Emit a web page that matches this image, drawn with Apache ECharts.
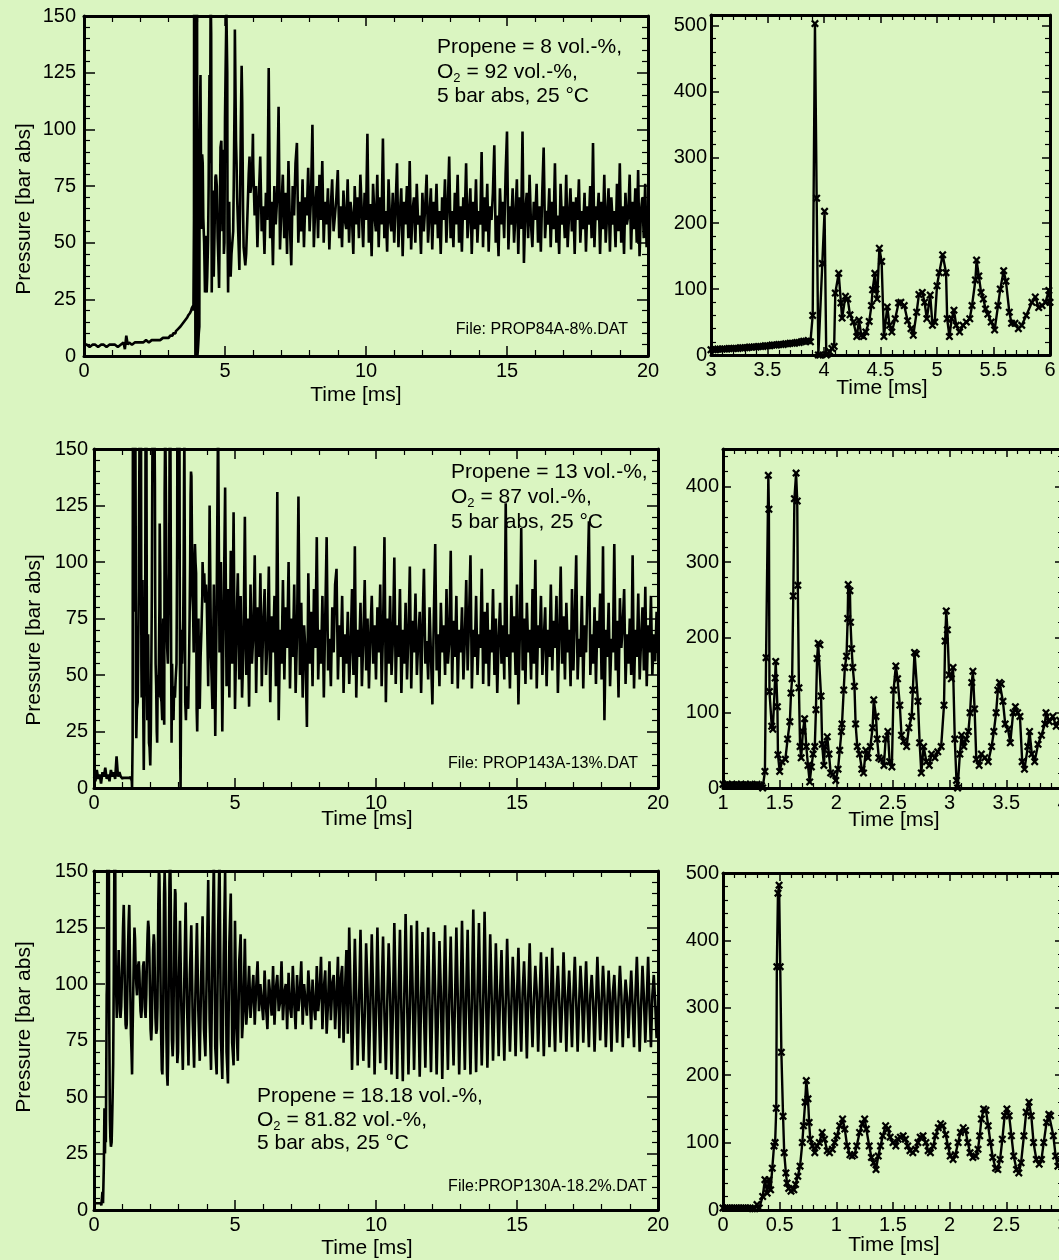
<!DOCTYPE html>
<html><head><meta charset="utf-8">
<script src="https://cdn.jsdelivr.net/npm/echarts@6/dist/echarts.min.js"></script>
<style>html,body{margin:0;padding:0;background:#daf5c1;overflow:hidden;}#c{width:1059px;height:1260px;}</style>
</head><body><div id="c"></div>
<script>
// ---------------- DATA ----------------
// Panel 1 (Propene 8 %), full record 0-20 ms: early baseline, then shared detail (panel 2), then tail
const p1Pre = [[0,5],[0.1,5],[0.2,4],[0.3,5],[0.4,5],[0.5,4],[0.6,5],[0.7,5],[0.8,4],[0.9,5],[1.0,5],[1.1,5],[1.2,4],[1.3,5],[1.4,6],[1.45,3],[1.5,9],[1.55,5],[1.6,6],[1.7,5],[1.8,6],[1.9,6],[2.0,6],[2.1,6],[2.2,7],[2.3,6],[2.4,7],[2.5,7],[2.6,7],[2.7,7],[2.8,8],[2.9,8]];
// Panel 2 detail 3-6 ms (time ms, pressure bar)
const p2Detail = [[3.00,8],[3.02,8],[3.04,8],[3.06,9],[3.08,9],[3.10,9],[3.12,9],[3.14,9],[3.16,10],[3.18,10],[3.20,10],[3.22,10],[3.24,10],[3.26,11],[3.28,11],[3.30,11],[3.32,11],[3.34,12],[3.36,12],[3.38,12],[3.40,12],[3.42,13],[3.44,13],[3.46,13],[3.48,14],[3.50,14],[3.52,14],[3.54,15],[3.56,15],[3.58,15],[3.60,16],[3.62,16],[3.64,16],[3.66,17],[3.68,17],[3.70,18],[3.72,18],[3.74,18],[3.76,19],[3.78,19],[3.80,20],[3.82,21],[3.84,21],[3.86,22],[3.88,20],[3.90,60],[3.92,503],[3.935,238],[3.95,0],[3.965,0],[3.985,139],[4.005,218],[4.02,0],[4.035,2],[4.05,5],[4.07,10],[4.09,13],[4.10,94],[4.13,124],[4.15,79],[4.16,56],[4.19,89],[4.21,85],[4.23,61],[4.26,50],[4.29,28],[4.31,53],[4.33,30],[4.35,28],[4.37,35],[4.40,51],[4.42,75],[4.43,99],[4.45,124],[4.46,100],[4.47,85],[4.49,162],[4.51,142],[4.53,28],[4.56,73],[4.58,45],[4.60,35],[4.63,55],[4.66,79],[4.68,80],[4.71,75],[4.74,52],[4.77,40],[4.79,30],[4.82,65],[4.84,92],[4.87,95],[4.89,80],[4.91,55],[4.94,91],[4.96,45],[4.98,50],[5.00,105],[5.02,125],[5.05,152],[5.08,125],[5.09,55],[5.11,28],[5.13,55],[5.15,68],[5.17,45],[5.20,35],[5.23,45],[5.26,50],[5.29,55],[5.31,75],[5.34,114],[5.35,144],[5.37,120],[5.39,95],[5.41,85],[5.43,70],[5.45,62],[5.48,50],[5.51,38],[5.54,75],[5.56,100],[5.59,128],[5.61,112],[5.64,65],[5.66,48],[5.69,48],[5.72,40],[5.75,45],[5.79,60],[5.84,80],[5.87,88],[5.90,72],[5.93,75],[5.96,80],[5.99,98],[6.00,80]];
// Panel 1 tail: samples every 0.05 ms starting at 6.00 ms
const p1TailStart = 6.0, p1TailStep = 0.05;
const p1Tail = [
85,62,75,48,70,88,55,66,45,72,60,127,52,68,40,75,58,70,110,47,
65,80,52,72,45,86,58,40,75,62,85,94,50,68,55,78,48,70,62,83,
55,70,102,48,66,75,52,80,60,86,50,68,58,74,47,65,78,55,62,70,
82,52,66,48,73,60,56,78,50,68,62,45,75,58,70,52,80,64,48,72,
60,98,50,67,44,76,62,55,80,48,70,58,96,52,64,46,78,60,55,72,
50,66,85,48,62,74,44,68,58,75,52,86,47,64,70,50,76,58,62,45,
72,55,66,80,50,62,74,47,68,58,76,52,64,45,70,60,78,50,66,88,
52,64,48,72,58,80,50,66,46,70,60,85,52,62,74,45,68,56,78,50,
64,58,90,48,70,55,76,46,66,60,72,93,50,62,44,74,58,68,52,80,
99,47,66,58,74,50,62,78,45,70,56,99,41,64,72,52,80,58,48,68,
60,76,50,66,46,72,92,52,64,58,74,48,68,56,85,50,62,45,76,58,
66,52,80,48,62,74,55,68,45,70,60,78,50,64,56,72,46,66,58,75,
52,94,48,66,60,72,45,68,56,80,50,62,74,46,70,58,64,48,76,55,
85,50,66,45,72,58,62,80,47,68,56,74,50,82,44,64,70,52,76,48,
60];

// Panel 3 (Propene 13 %)
const p3Pre = [[0,5],[0.05,3],[0.1,8],[0.15,4],[0.2,6],[0.25,2],[0.3,7],[0.35,5],[0.4,9],[0.45,4],[0.5,6],[0.55,3],[0.6,8],[0.65,5],[0.7,7],[0.75,4],[0.8,14],[0.85,5],[0.9,7],[0.95,5]];
// Panel 4 detail 1-4 ms
const p4Detail = [[1.00,5],[1.02,4],[1.04,5],[1.06,4],[1.08,5],[1.10,4],[1.12,5],[1.14,4],[1.16,5],[1.18,4],[1.20,5],[1.22,4],[1.24,5],[1.26,4],[1.28,4],[1.30,5],[1.32,4],[1.34,3],[1.35,0],[1.37,22],[1.38,173],[1.40,415],[1.405,370],[1.41,128],[1.43,82],[1.44,78],[1.46,146],[1.465,168],[1.48,108],[1.485,44],[1.50,22],[1.52,35],[1.55,38],[1.57,65],[1.59,88],[1.60,126],[1.61,145],[1.62,255],[1.63,384],[1.645,418],[1.655,381],[1.66,269],[1.67,133],[1.68,55],[1.69,40],[1.705,75],[1.72,92],[1.735,55],[1.75,30],[1.765,8],[1.78,28],[1.795,45],[1.81,55],[1.82,104],[1.83,172],[1.84,192],[1.855,190],[1.865,122],[1.875,58],[1.89,30],[1.90,55],[1.92,68],[1.935,45],[1.95,20],[1.97,18],[1.995,10],[2.015,25],[2.03,50],[2.045,75],[2.05,85],[2.065,130],[2.075,160],[2.09,175],[2.10,225],[2.105,270],[2.12,262],[2.125,220],[2.135,185],[2.145,160],[2.16,135],[2.17,85],[2.185,55],[2.205,45],[2.225,25],[2.24,20],[2.26,50],[2.28,40],[2.30,55],[2.32,80],[2.33,117],[2.35,95],[2.36,65],[2.375,40],[2.395,38],[2.42,30],[2.435,65],[2.455,75],[2.47,35],[2.49,28],[2.505,130],[2.525,162],[2.54,145],[2.56,110],[2.575,70],[2.595,62],[2.62,55],[2.64,80],[2.665,95],[2.675,130],[2.69,180],[2.705,178],[2.72,115],[2.735,60],[2.75,20],[2.77,55],[2.795,35],[2.82,30],[2.84,45],[2.87,40],[2.895,48],[2.925,55],[2.95,110],[2.96,195],[2.97,235],[2.98,210],[2.995,150],[3.015,145],[3.03,160],[3.045,65],[3.06,10],[3.07,0],[3.09,45],[3.105,70],[3.125,55],[3.145,65],[3.165,75],[3.18,100],[3.195,140],[3.205,155],[3.22,105],[3.235,38],[3.26,30],[3.28,45],[3.31,40],[3.34,35],[3.37,55],[3.39,75],[3.41,100],[3.425,130],[3.44,140],[3.455,138],[3.47,115],[3.49,85],[3.515,78],[3.535,60],[3.56,100],[3.58,108],[3.60,100],[3.62,95],[3.64,35],[3.66,25],[3.69,55],[3.705,75],[3.725,45],[3.75,35],[3.78,58],[3.81,70],[3.84,85],[3.85,100],[3.88,88],[3.91,95],[3.94,82],[3.97,90],[4.00,85]];
const p3TailStart = 4.0, p3TailStep = 0.05;
const p3Tail = [
82,45,125,58,35,90,23,80,165,60,100,25,78,133,45,88,40,105,55,122,
35,70,95,48,85,40,62,120,50,75,36,90,55,68,103,42,80,58,95,45,
72,88,50,65,98,38,76,60,85,45,131,30,70,55,92,48,80,62,100,44,
75,58,90,42,68,129,50,82,40,72,60,27,95,55,78,45,88,62,111,48,
70,55,85,40,75,111,52,66,45,80,60,90,97,48,72,58,85,42,68,55,
78,46,62,88,50,107,40,70,58,82,45,66,92,52,75,44,68,85,55,72,
48,80,60,90,45,70,111,38,75,55,85,50,66,102,46,72,58,88,42,70,
55,82,48,68,98,44,74,60,86,50,66,78,42,72,97,55,65,48,80,58,
37,75,108,52,68,45,82,60,72,50,88,55,65,105,46,74,58,85,44,70,
60,80,48,66,92,52,75,103,44,70,58,85,50,68,62,97,46,78,55,82,
45,70,60,88,50,75,42,66,82,55,72,48,126,58,68,44,85,60,76,50,
90,37,68,115,52,75,46,82,60,70,48,88,55,101,44,72,62,85,50,66,
80,45,70,58,90,52,74,62,85,42,68,98,55,76,48,82,60,70,45,88,
52,75,103,48,66,58,85,44,72,60,90,118,50,68,55,80,46,74,62,86,
48,107,30,70,58,82,45,66,60,108,52,74,40,84,62,72,88,46,68,55,
75,50,103,44,70,58,86,48,66,80,52,89,45,72,60,85,50,68,56,78,
60];

// Panel 6 detail 0-3 ms (Propene 18.18 %)
const p6Detail = [[0.00,3],[0.02,3],[0.04,3],[0.06,3],[0.08,3],[0.10,3],[0.12,3],[0.14,3],[0.16,3],[0.18,3],[0.20,3],[0.22,3],[0.24,3],[0.26,2],[0.28,2],[0.30,8],[0.32,3],[0.35,20],[0.37,45],[0.39,25],[0.405,45],[0.42,30],[0.435,62],[0.45,95],[0.46,100],[0.47,151],[0.475,361],[0.485,470],[0.495,482],[0.505,361],[0.515,234],[0.53,139],[0.54,85],[0.555,55],[0.565,40],[0.58,32],[0.60,28],[0.625,30],[0.64,38],[0.66,50],[0.68,65],[0.70,100],[0.71,125],[0.725,160],[0.735,192],[0.75,165],[0.76,130],[0.77,105],[0.79,95],[0.81,85],[0.83,95],[0.85,100],[0.875,115],[0.895,105],[0.92,88],[0.94,85],[0.965,90],[0.985,100],[1.005,110],[1.03,125],[1.055,135],[1.075,120],[1.095,95],[1.12,82],[1.14,80],[1.16,82],[1.18,95],[1.205,115],[1.23,128],[1.25,135],[1.265,120],[1.29,95],[1.31,78],[1.33,70],[1.35,60],[1.37,80],[1.39,95],[1.41,110],[1.435,125],[1.455,120],[1.475,108],[1.50,100],[1.525,95],[1.545,105],[1.565,108],[1.59,110],[1.61,105],[1.63,95],[1.65,88],[1.675,85],[1.70,90],[1.72,100],[1.74,108],[1.765,110],[1.79,100],[1.81,88],[1.83,85],[1.855,95],[1.875,110],[1.90,122],[1.92,128],[1.94,125],[1.965,112],[1.985,95],[2.005,80],[2.03,75],[2.05,82],[2.075,100],[2.095,115],[2.12,122],[2.14,118],[2.16,100],[2.18,85],[2.205,78],[2.23,80],[2.25,90],[2.265,110],[2.28,135],[2.30,150],[2.32,148],[2.34,125],[2.36,100],[2.38,78],[2.405,62],[2.425,60],[2.445,75],[2.465,105],[2.485,140],[2.505,150],[2.525,140],[2.545,110],[2.565,80],[2.59,60],[2.61,55],[2.63,70],[2.655,110],[2.675,145],[2.70,160],[2.72,140],[2.74,100],[2.765,75],[2.79,68],[2.81,75],[2.83,100],[2.855,130],[2.875,142],[2.89,140],[2.915,110],[2.935,80],[2.955,65],[2.98,70],[3.00,95]];
const p5TailStart = 3.0, p5TailStep = 0.05;
const p5Tail = [
95,128,88,62,100,136,90,64,104,126,84,63,98,127,88,66,102,130,80,68,
108,146,84,62,116,155,72,60,122,158,76,58,112,150,70,56,118,140,74,64,
128,82,66,110,122,76,88,120,82,92,108,85,95,104,82,98,110,88,100,92,
84,106,90,80,102,95,86,108,82,98,104,88,92,110,84,96,100,80,105,90,
85,108,92,80,104,88,96,110,82,100,92,86,106,95,80,102,90,84,108,88,
96,112,80,98,106,78,92,110,84,100,104,80,94,112,76,102,108,74,96,115,
78,125,96,62,88,120,94,64,92,124,90,66,86,118,98,63,90,122,95,60,
88,125,92,65,95,121,86,62,92,118,96,60,89,127,93,58,94,124,88,57,
92,131,95,60,88,126,97,62,90,128,92,59,94,123,88,63,96,125,90,61,
92,123,95,60,88,119,96,58,93,126,90,62,95,121,88,64,91,125,94,60,
90,128,92,62,96,124,88,60,94,133,90,61,95,127,92,64,90,132,96,63,
92,122,95,66,90,118,93,68,96,115,90,66,92,120,94,70,90,112,96,68,
94,116,90,70,96,110,92,67,95,118,90,72,93,108,96,70,92,114,94,68,
90,112,95,72,92,116,90,70,96,108,92,74,90,114,95,70,93,106,90,72,
95,112,92,70,90,108,96,74,92,110,90,72,95,104,92,70,90,112,94,75,
92,108,95,72,90,106,92,70,96,104,90,74,93,108,95,72,90,102,94,76,
92,106,90,72,95,112,92,70,90,108,94,74,92,112,90,72,95,104,92,76,
90];

// Texts
const annot1 = ['Propene = 8 vol.-%,', ' = 92 vol.-%,', '5 bar abs, 25 °C'];
const annot3 = ['Propene = 13 vol.-%,', ' = 87 vol.-%,', '5 bar abs, 25 °C'];
const annot5 = ['Propene = 18.18 vol.-%,', ' = 81.82 vol.-%,', '5 bar abs, 25 °C'];
const files = ['File: PROP84A-8%.DAT', 'File: PROP143A-13%.DAT', 'File:PROP130A-18.2%.DAT'];
const xName = 'Time [ms]', yName = 'Pressure [bar abs]';

// ---------------- BUILD ----------------
function tailPairs(start, step, vals) { return vals.map((v, i) => [+(start + i * step).toFixed(3), v]); }
function before(arr, t) { return arr.filter(p => p[0] < t); }
const s1 = p1Pre.concat(before(p2Detail, p1TailStart), tailPairs(p1TailStart, p1TailStep, p1Tail));
const s3 = p3Pre.concat(before(p4Detail, p3TailStart), tailPairs(p3TailStart, p3TailStep, p3Tail));
const s5 = before(p6Detail, p5TailStart).concat(tailPairs(p5TailStart, p5TailStep, p5Tail));

const FONT = '"Liberation Sans", Arial, Helvetica, sans-serif';
const grids = [
  {left: 84, top: 16, width: 564, height: 340},
  {left: 711, top: 15, width: 339, height: 340},
  {left: 94, top: 449, width: 564, height: 339},
  {left: 723, top: 449, width: 340, height: 339},
  {left: 94, top: 871, width: 564, height: 339},
  {left: 723, top: 873, width: 340, height: 337}
];
const panels = [
  {x: [0, 20, 5], y: [0, 150, 25], xMaj: 10, xMin: 6, yMaj: 11, yMin: 6, yMargin: 8},
  {x: [3, 6, 0.5], y: [0, 516, 100], xMaj: 8, xMin: 5, yMaj: 8, yMin: 5, yMargin: 4},
  {x: [0, 20, 5], y: [0, 150, 25], xMaj: 10, xMin: 6, yMaj: 11, yMin: 6, yMargin: 6},
  {x: [1, 4, 0.5], y: [0, 450, 100], xMaj: 8, xMin: 5, yMaj: 8, yMin: 5, yMargin: 4},
  {x: [0, 20, 5], y: [0, 150, 25], xMaj: 10, xMin: 6, yMaj: 11, yMin: 6, yMargin: 6},
  {x: [0, 3, 0.5], y: [0, 500, 100], xMaj: 8, xMin: 5, yMaj: 8, yMin: 5, yMargin: 4}
];
function axis(g, rng, pos, majLen, minLen, showLabel, margin) {
  return {
    type: 'value', gridIndex: g, position: pos, min: rng[0], max: rng[1], interval: rng[2],
    axisLine: {show: true, onZero: false, lineStyle: {color: '#000', width: 3}},
    axisTick: {show: true, inside: true, length: majLen, lineStyle: {color: '#000', width: 1.5}},
    minorTick: {show: true, splitNumber: 5, length: minLen, lineStyle: {color: '#000', width: 1.2}},
    splitLine: {show: false}, minorSplitLine: {show: false},
    axisLabel: {show: showLabel, margin: margin, fontSize: 20, fontFamily: FONT, color: '#000', showMaxLabel: (rng[1] % rng[2] === 0), showMinLabel: true},
    silent: true
  };
}
const xAxes = [], yAxes = [];
panels.forEach((p, g) => {
  xAxes.push(axis(g, p.x, 'bottom', p.xMaj, p.xMin, true, 5));
  xAxes.push(axis(g, p.x, 'top', p.xMaj, p.xMin, false, 5));
  yAxes.push(axis(g, p.y, 'left', p.yMaj, p.yMin, true, p.yMargin));
  yAxes.push(axis(g, p.y, 'right', p.yMaj, p.yMin, false, 5));
});
const XSYM = 'path://M0,2L2,0L5,3L8,0L10,2L7,5L10,8L8,10L5,7L2,10L0,8L3,5Z';
function lineSeries(g, data, withSym) {
  const s = {type: 'line', xAxisIndex: 2 * g, yAxisIndex: 2 * g, data: data, clip: true, silent: true,
    lineStyle: {color: '#000', width: withSym ? 2.4 : 2.6}, itemStyle: {color: '#000'}, z: 3};
  if (withSym) { s.symbol = XSYM; s.symbolSize = 8; s.showSymbol = true; s.showAllSymbol = true; }
  else { s.showSymbol = false; s.symbol = 'none'; }
  return s;
}
const series = [
  lineSeries(0, s1, false), lineSeries(1, p2Detail, true),
  lineSeries(2, s3, false), lineSeries(3, p4Detail, true),
  lineSeries(4, s5, false), lineSeries(5, p6Detail, true)
];

function txt(x, y, text, size, align, rot) {
  const e = {type: 'text', x: x, y: y, silent: true, z: 10,
    style: {text: text, fontSize: size, fontFamily: FONT, fill: '#000', align: align, verticalAlign: 'middle'}};
  if (rot) e.rotation = rot;
  return e;
}
function subText(x, y, rest) {
  return {type: 'text', x: x, y: y, silent: true, z: 10,
    style: {text: '{n|O}{s|2}{n|' + rest + '}', fill: '#000', align: 'left', verticalAlign: 'middle',
      rich: {n: {fontSize: 21, fontFamily: FONT, fill: '#000'}, s: {fontSize: 13, fontFamily: FONT, fill: '#000', padding: [12, 0, 0, 0]}}}};
}
const graphics = [
  txt(24, 209, yName, 21, 'center', Math.PI / 2),
  txt(34, 640, yName, 21, 'center', Math.PI / 2),
  txt(24, 1027, yName, 21, 'center', Math.PI / 2),
  txt(356, 395, xName, 21, 'center'),
  txt(882, 388, xName, 21, 'center'),
  txt(367, 819, xName, 21, 'center'),
  txt(894, 820, xName, 21, 'center'),
  txt(367, 1248, xName, 21, 'center'),
  txt(894, 1245, xName, 21, 'center'),
  txt(437, 47, annot1[0], 21, 'left'), subText(437, 72, annot1[1]), txt(437, 96, annot1[2], 21, 'left'),
  txt(451, 472, annot3[0], 21, 'left'), subText(451, 497, annot3[1]), txt(451, 522, annot3[2], 21, 'left'),
  txt(257, 1096, annot5[0], 21, 'left'), subText(257, 1120, annot5[1]), txt(257, 1143, annot5[2], 21, 'left'),
  txt(628, 330, files[0], 16, 'right'),
  txt(638, 764, files[1], 16, 'right'),
  txt(647, 1187, files[2], 16, 'right')
];

const chart = echarts.init(document.getElementById('c'), null, {renderer: 'canvas', width: 1059, height: 1260});
chart.setOption({
  backgroundColor: '#daf5c1',
  animation: false,
  textStyle: {fontFamily: FONT},
  grid: grids.map(g => Object.assign({containLabel: false, outerBoundsMode: 'none', show: false}, g)),
  xAxis: xAxes, yAxis: yAxes, series: series, graphic: graphics,
  tooltip: {show: false}, legend: {show: false}
});
</script>
</body></html>
